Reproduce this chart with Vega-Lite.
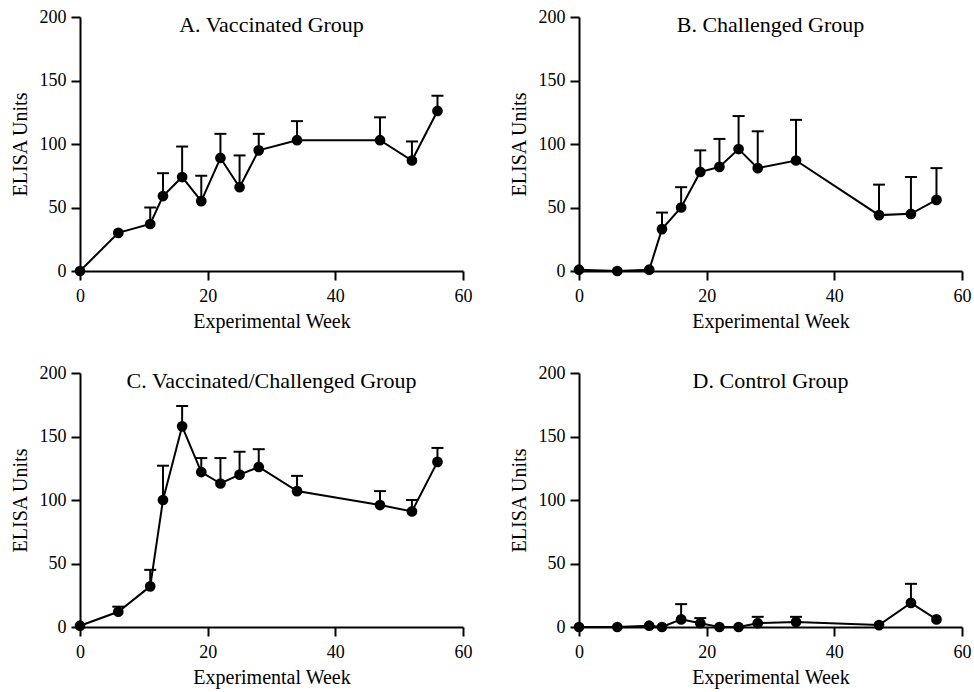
{
  "$schema": "https://vega.github.io/schema/vega-lite/v6.json",
  "background": "white",
  "padding": {"left": 10, "top": 8, "right": 5, "bottom": 4},
  "datasets": {
    "elisa": [
      {"g": "A", "week": 0, "mean": 0, "hi": null},
      {"g": "A", "week": 6, "mean": 30, "hi": null},
      {"g": "A", "week": 11, "mean": 37, "hi": 50},
      {"g": "A", "week": 13, "mean": 59, "hi": 77},
      {"g": "A", "week": 16, "mean": 74, "hi": 98},
      {"g": "A", "week": 19, "mean": 55, "hi": 75},
      {"g": "A", "week": 22, "mean": 89, "hi": 108},
      {"g": "A", "week": 25, "mean": 66, "hi": 91},
      {"g": "A", "week": 28, "mean": 95, "hi": 108},
      {"g": "A", "week": 34, "mean": 103, "hi": 118},
      {"g": "A", "week": 47, "mean": 103, "hi": 121},
      {"g": "A", "week": 52, "mean": 87, "hi": 102},
      {"g": "A", "week": 56, "mean": 126, "hi": 138},
      {"g": "B", "week": 0, "mean": 1, "hi": null},
      {"g": "B", "week": 6, "mean": 0, "hi": null},
      {"g": "B", "week": 11, "mean": 1, "hi": null},
      {"g": "B", "week": 13, "mean": 33, "hi": 46},
      {"g": "B", "week": 16, "mean": 50, "hi": 66},
      {"g": "B", "week": 19, "mean": 78, "hi": 95},
      {"g": "B", "week": 22, "mean": 82, "hi": 104},
      {"g": "B", "week": 25, "mean": 96, "hi": 122},
      {"g": "B", "week": 28, "mean": 81, "hi": 110},
      {"g": "B", "week": 34, "mean": 87, "hi": 119},
      {"g": "B", "week": 47, "mean": 44, "hi": 68},
      {"g": "B", "week": 52, "mean": 45, "hi": 74},
      {"g": "B", "week": 56, "mean": 56, "hi": 81},
      {"g": "C", "week": 0, "mean": 1, "hi": null},
      {"g": "C", "week": 6, "mean": 12, "hi": 16},
      {"g": "C", "week": 11, "mean": 32, "hi": 45},
      {"g": "C", "week": 13, "mean": 100, "hi": 127},
      {"g": "C", "week": 16, "mean": 158, "hi": 174},
      {"g": "C", "week": 19, "mean": 122, "hi": 133},
      {"g": "C", "week": 22, "mean": 113, "hi": 133},
      {"g": "C", "week": 25, "mean": 120, "hi": 138},
      {"g": "C", "week": 28, "mean": 126, "hi": 140},
      {"g": "C", "week": 34, "mean": 107, "hi": 119},
      {"g": "C", "week": 47, "mean": 96, "hi": 107},
      {"g": "C", "week": 52, "mean": 91, "hi": 100},
      {"g": "C", "week": 56, "mean": 130, "hi": 141},
      {"g": "D", "week": 0, "mean": 0, "hi": null},
      {"g": "D", "week": 6, "mean": 0, "hi": null},
      {"g": "D", "week": 11, "mean": 1, "hi": null},
      {"g": "D", "week": 13, "mean": 0, "hi": null},
      {"g": "D", "week": 16, "mean": 6, "hi": 18},
      {"g": "D", "week": 19, "mean": 3, "hi": 7},
      {"g": "D", "week": 22, "mean": 0, "hi": null},
      {"g": "D", "week": 25, "mean": 0, "hi": null},
      {"g": "D", "week": 28, "mean": 3, "hi": 8},
      {"g": "D", "week": 34, "mean": 4, "hi": 8},
      {"g": "D", "week": 47, "mean": 1.5, "hi": null},
      {"g": "D", "week": 52, "mean": 19, "hi": 34},
      {"g": "D", "week": 56, "mean": 6, "hi": null}
    ]
  },
  "data": {"name": "elisa"},
  "columns": 2,
  "spacing": {"row": 33, "column": 37},
  "concat": [
    {
      "width": 383, "height": 254,
      "title": {"text": "A. Vaccinated Group"},
      "transform": [{"filter": "datum.g == 'A'"}],
      "encoding": {
        "x": {"field": "week", "type": "quantitative", "scale": {"domain": [0, 60]}, "axis": {"values": [0, 20, 40, 60], "title": "Experimental Week"}},
        "y": {"field": "mean", "type": "quantitative", "scale": {"domain": [0, 200]}, "axis": {"values": [0, 50, 100, 150, 200], "title": "ELISA Units"}}
      },
      "layer": [
        {"transform": [{"filter": "datum.hi != null"}], "mark": {"type": "rule", "color": "black", "strokeWidth": 2}, "encoding": {"y2": {"field": "hi"}}},
        {"transform": [{"filter": "datum.hi != null"}], "mark": {"type": "tick", "orient": "horizontal", "size": 12, "thickness": 2, "color": "black", "opacity": 1}, "encoding": {"y": {"field": "hi", "type": "quantitative", "scale": {"domain": [0, 200]}, "axis": {"values": [0, 50, 100, 150, 200], "title": "ELISA Units"}}}},
        {"mark": {"type": "line", "color": "black", "strokeWidth": 2}},
        {"mark": {"type": "point", "filled": true, "size": 115, "color": "black", "opacity": 1}}
      ]
    },
    {
      "width": 383, "height": 254,
      "title": {"text": "B. Challenged Group"},
      "transform": [{"filter": "datum.g == 'B'"}],
      "encoding": {
        "x": {"field": "week", "type": "quantitative", "scale": {"domain": [0, 60]}, "axis": {"values": [0, 20, 40, 60], "title": "Experimental Week"}},
        "y": {"field": "mean", "type": "quantitative", "scale": {"domain": [0, 200]}, "axis": {"values": [0, 50, 100, 150, 200], "title": "ELISA Units"}}
      },
      "layer": [
        {"transform": [{"filter": "datum.hi != null"}], "mark": {"type": "rule", "color": "black", "strokeWidth": 2}, "encoding": {"y2": {"field": "hi"}}},
        {"transform": [{"filter": "datum.hi != null"}], "mark": {"type": "tick", "orient": "horizontal", "size": 12, "thickness": 2, "color": "black", "opacity": 1}, "encoding": {"y": {"field": "hi", "type": "quantitative", "scale": {"domain": [0, 200]}, "axis": {"values": [0, 50, 100, 150, 200], "title": "ELISA Units"}}}},
        {"mark": {"type": "line", "color": "black", "strokeWidth": 2}},
        {"mark": {"type": "point", "filled": true, "size": 115, "color": "black", "opacity": 1}}
      ]
    },
    {
      "width": 383, "height": 254,
      "title": {"text": "C. Vaccinated/Challenged Group"},
      "transform": [{"filter": "datum.g == 'C'"}],
      "encoding": {
        "x": {"field": "week", "type": "quantitative", "scale": {"domain": [0, 60]}, "axis": {"values": [0, 20, 40, 60], "title": "Experimental Week"}},
        "y": {"field": "mean", "type": "quantitative", "scale": {"domain": [0, 200]}, "axis": {"values": [0, 50, 100, 150, 200], "title": "ELISA Units"}}
      },
      "layer": [
        {"transform": [{"filter": "datum.hi != null"}], "mark": {"type": "rule", "color": "black", "strokeWidth": 2}, "encoding": {"y2": {"field": "hi"}}},
        {"transform": [{"filter": "datum.hi != null"}], "mark": {"type": "tick", "orient": "horizontal", "size": 12, "thickness": 2, "color": "black", "opacity": 1}, "encoding": {"y": {"field": "hi", "type": "quantitative", "scale": {"domain": [0, 200]}, "axis": {"values": [0, 50, 100, 150, 200], "title": "ELISA Units"}}}},
        {"mark": {"type": "line", "color": "black", "strokeWidth": 2}},
        {"mark": {"type": "point", "filled": true, "size": 115, "color": "black", "opacity": 1}}
      ]
    },
    {
      "width": 383, "height": 254,
      "title": {"text": "D. Control Group"},
      "transform": [{"filter": "datum.g == 'D'"}],
      "encoding": {
        "x": {"field": "week", "type": "quantitative", "scale": {"domain": [0, 60]}, "axis": {"values": [0, 20, 40, 60], "title": "Experimental Week"}},
        "y": {"field": "mean", "type": "quantitative", "scale": {"domain": [0, 200]}, "axis": {"values": [0, 50, 100, 150, 200], "title": "ELISA Units"}}
      },
      "layer": [
        {"transform": [{"filter": "datum.hi != null"}], "mark": {"type": "rule", "color": "black", "strokeWidth": 2}, "encoding": {"y2": {"field": "hi"}}},
        {"transform": [{"filter": "datum.hi != null"}], "mark": {"type": "tick", "orient": "horizontal", "size": 12, "thickness": 2, "color": "black", "opacity": 1}, "encoding": {"y": {"field": "hi", "type": "quantitative", "scale": {"domain": [0, 200]}, "axis": {"values": [0, 50, 100, 150, 200], "title": "ELISA Units"}}}},
        {"mark": {"type": "line", "color": "black", "strokeWidth": 2}},
        {"mark": {"type": "point", "filled": true, "size": 115, "color": "black", "opacity": 1}}
      ]
    }
  ],
  "config": {
    "view": {"stroke": null},
    "font": "Liberation Serif",
    "title": {"font": "Liberation Serif", "fontSize": 22, "fontWeight": "normal", "color": "black", "anchor": "middle", "frame": "group", "baseline": "alphabetic", "offset": -29},
    "axis": {
      "grid": false,
      "labelFlush": false,
      "domainColor": "black", "domainWidth": 2,
      "tickColor": "black", "tickWidth": 2, "tickSize": 9,
      "labelColor": "black", "labelFont": "Liberation Serif", "labelFontSize": 18, "labelPadding": 5,
      "titleColor": "black", "titleFont": "Liberation Serif", "titleFontSize": 20, "titleFontWeight": "normal"
    },
    "axisX": {"titlePadding": 6, "labelPadding": 7},
    "axisY": {"titlePadding": 9}
  }
}
